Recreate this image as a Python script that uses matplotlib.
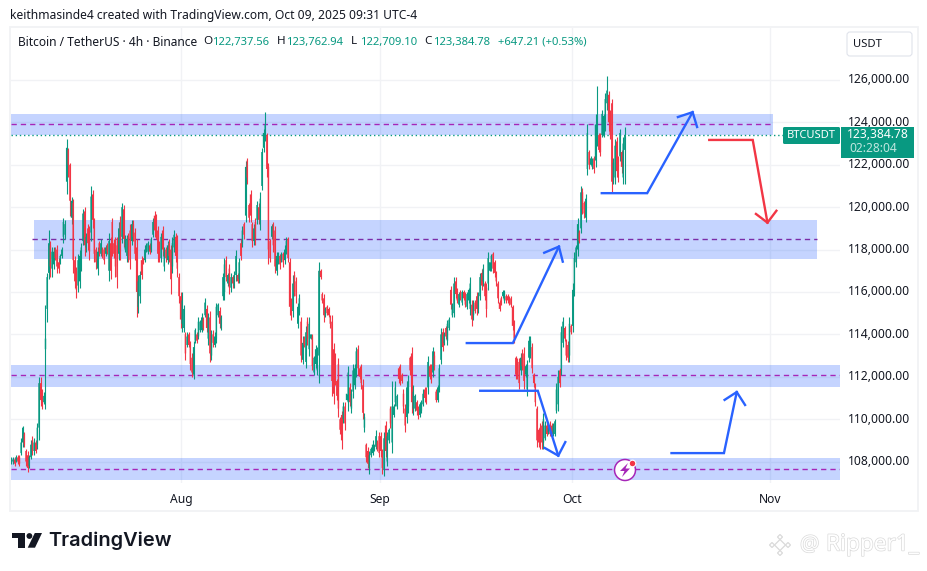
#!/usr/bin/env python3
import matplotlib
matplotlib.use("Agg")
import matplotlib.pyplot as plt
from matplotlib.patches import Rectangle, FancyBboxPatch, Polygon, Circle
from matplotlib.transforms import ScaledTranslation
import matplotlib.patheffects as pe
import numpy as np

plt.rcParams['font.family'] = ['Noto Sans', 'DejaVu Sans']

GREEN = '#089981'
RED = '#F23645'
BLUE = '#2962FF'
PURPLE = '#A626B8'
GRID = '#F1F2F5'
INK = '#131722'

# prices are in thousands of USDT, one row is ten candles
highs = [
    108.2,108.2,108.2,108.3,108.3,108.3,109.1,109.7,109.4,108.6,
    108.5,108.3,109,109.2,109.1,109,109.8,112,112,111.4,
    111.3,115.4,116.9,118.9,118.4,118.1,118.1,118.1,118.2,117.6,
    117.8,118.1,119.5,119.4,123.2,122.8,122.1,120.5,120.4,117.7,
    117.2,117.8,118,118.3,119.9,120,118.8,119.2,119.1,121,
    120.8,119.5,118.1,118.1,118.4,118.5,118.1,118.1,118.2,118.3,
    118.8,118.6,119.5,118.5,118.6,118.6,119.3,119.6,120.2,120.1,
    118.7,118.7,118.8,119.2,119.4,119.4,119,118.5,116.8,117,
    117.7,117.6,118.2,118.3,118.4,118.3,118.6,119.5,119.8,119.7,
    119.1,118.4,118.8,119.1,118.1,118.1,118.4,118.5,118.2,118.6,
    118.9,118.8,118.7,116.9,116,116,115.4,114.1,114.1,114.1,
    113.7,113.1,113.7,114.3,114.1,114.8,114.7,115,114.8,115.7,
    115.4,115,115.1,114.2,114.2,114.1,115.5,115.5,115.3,114.9,
    116.9,117.6,117.7,116.9,117.3,116.9,116.8,117,118,116.9,
    117.6,118.5,119.1,119.3,122.2,122.3,120.2,120.8,119.3,119.2,
    119.5,120.3,120.2,120.7,122.8,123.7,124.5,123.5,122.1,118.5,
    119.2,119.3,119.1,117.9,117.9,117.8,117.9,117.9,118.2,118.6,
    118.6,117.6,115.7,116.8,117,116.7,115.5,115.9,114.8,113.9,
    113.9,114.4,114.8,114.8,114,114,113,113.5,113.4,117.4,
    117.1,116,115.9,115.3,115.4,115.3,114.9,114.9,113.6,113.1,
    111.9,112.9,110.1,110.4,110.8,110.8,111.2,112.5,111.7,111.4,
    112.6,112.6,113.4,113.5,112.5,112.6,111.9,110.3,108.9,108.7,
    108.5,108.7,109,108.8,109.5,109,109.4,109.4,108.6,109.4,
    109.9,109.4,109.6,110.6,111.8,110.7,111.8,111.2,112.5,112.6,
    112.2,111.4,110.7,111.8,112.1,113,113.4,111.6,111.2,110.9,
    110.6,110.8,110.9,111.4,111.5,111.5,113,112.6,112.6,113.4,
    113.2,111.4,111.6,112.6,114.3,114.3,114.1,114.4,114.7,114.8,
    116.3,115.5,116.7,116.7,116.2,116,116.1,116.1,116.1,116,
    116,116.2,116.7,115.6,115.6,115.6,116,116,116.9,117.1,
    117.3,116.5,116.4,117.9,117.4,117.8,117.9,117.5,117,116.5,
    115.6,115.8,116.1,116.1,115.9,115.9,115.8,115.8,115.4,114.7,
    113,112.9,112.9,113.1,113.3,113.4,112.6,112.8,113.9,113.9,
    113.6,112.2,111.7,110.6,109.6,109.8,109.9,110.3,109.9,109.8,
    109.7,109.9,109.8,109.8,110,111.7,112.3,112.4,114.4,114.8,
    114.4,113.8,113.7,114.8,114.5,116.4,117.9,118.2,119.5,118.9,
    121,120.9,120.3,120.6,123.9,122.7,122.4,122.3,122.4,124.4,
    125.7,123.5,123.5,124.6,124.4,125.4,126.2,125.5,124.6,125.1,
    122.3,123.2,123.3,122.4,123.7,122.7,123.3,123.8,
]
lows = [
    107.9,107.9,107.8,108,107.9,107.8,108.3,108.7,108.7,107.8,
    107.5,107.7,108.1,108.3,108.3,108.4,108.6,109,110.6,110.5,
    110.7,110.5,114.6,116.6,116.7,116.7,117.1,117.5,116.9,116.9,
    117.3,117.6,118.3,118.5,120.6,121.4,119.6,119.2,116.9,116.2,
    115.7,116,116.2,117,118.2,117.7,117.9,118,117.5,118.4,
    119,117.4,117.1,116.8,117.7,117.7,117.6,117.3,117.7,117.8,
    116.5,116.6,117.7,117.6,116.7,116.2,117.5,117.5,118.3,118.1,
    117.9,117.4,117.4,117.1,118.2,118.4,117.5,114.8,115,115.5,
    116.6,117.3,117.4,117.9,117.8,117.8,117.9,118.6,118.6,118.5,
    117.4,117.4,117.4,117.7,117,117.4,117.3,117.4,115.9,116.9,
    117.9,117.4,116.7,115.5,114.3,114.1,114.1,112.8,113.4,113.4,
    112.3,112,111.9,113.6,113.6,113.8,114.1,114.1,114.2,114.8,
    114.1,113.5,112.7,112.8,113.4,113.4,113.6,114.8,114.3,114.2,
    115.6,115.6,116.5,116.3,115.9,116,116.2,116.2,116.5,116.4,
    116.4,117.5,118.1,118.5,119.3,121.1,119.3,119.3,118.1,118.2,
    118.2,119.2,119.2,118.9,120.8,122.6,123.1,121.4,117.3,117.4,
    118.5,117.9,116.9,116.8,117.3,117.1,117.4,117.2,117.3,117.8,
    117.4,114.9,114.7,114.8,115.8,115.5,114.3,114.9,112.7,112.6,
    113.4,112.4,113.5,113,113.8,112.3,112.1,112.4,112.1,111.7,
    116.6,115.5,114.6,114.8,114.9,114.8,114.3,111.1,110.7,111.6,
    110.9,110.1,109.3,108.6,109.8,109.5,110.9,110.4,110.6,110.3,
    111,111.4,112,112.1,111.9,111.4,110,109.4,108,107.7,
    107.4,108.2,108.3,108.5,108.6,108.5,108.2,108.2,107.4,107.3,
    108.2,107.8,108.9,109.6,108.4,110.1,110.6,110.5,111.7,111.6,
    111.7,110.3,109.4,109.8,110.3,112.1,110.3,110.2,110.4,110.2,
    110,110.1,110.3,110.6,110.8,110.7,111.2,111.9,111.7,112,
    112.3,110.8,110.8,111.3,112.6,113.2,113.5,113.8,113.5,114.2,
    115.2,114.8,114.8,115.7,115.5,115.3,115.6,115.4,115.6,115.3,
    115.2,115.5,114.9,114.4,114.7,115,114.9,115,115.6,116.1,
    116.3,115.6,114.8,116.1,117,117,116.9,116.7,116.3,115.5,
    115.1,115.4,115.7,115.5,115.5,115.5,115.4,115.3,114.2,113.6,
    111.9,111.9,111.4,112.1,112.3,111.4,112,111.1,112.7,112.9,
    112.2,111.5,110.6,108.7,108.7,108.6,108.6,108.6,109,109.2,
    109.3,109.2,109.3,109.2,109.2,110.3,110.4,111.5,112.1,113.4,
    113.7,112.8,112.7,112.7,114,114.1,115.8,117.2,117.7,118.3,
    118.8,119.7,119.5,119.3,121.5,121.8,122,121.8,121.6,121.9,
    122.9,122.6,122.4,123.3,123.3,123.6,124.6,123.6,123.2,120.7,
    121.1,121.1,121.4,121.2,122.2,121.6,121.1,121.1,
]
opens = [
    108,108,108.1,108,108.2,108.2,108.4,108.9,109.3,108.5,
    108.3,107.8,108.2,109,108.5,108.9,108.8,109.6,111.7,111.2,
    110.8,113.3,115.2,116.9,118.2,117.1,117.3,118,118,117.4,
    117.4,117.7,118.6,118.7,121.2,122.7,122,119.5,120.2,117.5,
    117,116.3,116.5,117.2,118.4,119.8,118.1,119,118.9,118.8,
    120.6,119.3,118,117.1,118.3,117.8,118,118,117.8,118.2,
    117,118.3,119.3,118.3,118.4,118.2,117.8,119.3,118.6,119.9,
    118,117.7,118.6,118.9,118.4,119.2,118.8,118.1,115.3,115.8,
    117.5,117.6,117.5,118,117.9,118.2,118,118.7,119.6,119.5,
    118.9,118.3,117.6,118.9,117.2,118,117.5,118.3,118,117.2,
    118.1,118.6,118.4,116.7,115.8,114.5,114.3,114,113.5,114,
    113.5,112.9,112.1,113.7,114,113.9,114.2,114.2,114.7,114.9,
    115.2,113.8,114.8,113,114,113.5,113.8,114.9,115.1,114.3,
    115.8,116,117.5,116.4,117.1,116.2,116.7,116.3,116.8,116.8,
    116.6,118.3,118.3,119.2,119.6,122.2,120.1,120.6,119.2,118.4,
    119.3,119.4,120,119.2,121,122.8,123.4,123.4,121.9,118.4,
    118.6,119.2,118.9,117,117.4,117.7,117.5,117.8,117.5,117.9,
    118.5,117.4,115.6,115.1,116.8,116.5,114.5,115,114.6,112.8,
    113.8,112.7,114.6,113.3,113.8,113.9,112.2,112.6,112.3,113,
    117,115.9,115.7,114.9,115.3,115.2,114.8,114.6,113.3,112.9,
    111.8,112.6,110,110.2,110,110.6,110.9,110.8,111.5,110.5,
    111.3,111.6,112.2,113.3,112.4,112.4,111.6,109.6,108.8,108.5,
    107.7,108.3,108.4,108.5,108.7,108.9,109.2,109.2,108.4,107.6,
    109.7,108,109,110.5,108.9,110.2,110.8,110.6,112.4,112.4,
    112.1,111.2,110.5,110.1,110.6,112.9,113.1,110.5,110.5,110.8,
    110.5,110.2,110.4,110.7,111.4,111.3,111.5,112.5,112.4,112.2,
    113,111.3,110.9,111.5,112.8,114.1,113.6,114.3,113.7,114.3,
    116.1,114.9,115,116.5,116.1,115.4,116,115.5,116,115.9,
    115.3,115.6,115.2,115.4,114.9,115.5,115.8,115.2,115.8,116.9,
    116.5,116.4,116.2,116.4,117,117.1,117.8,117.4,116.9,116.4,
    115.5,115.7,115.8,115.6,115.8,115.8,115.7,115.7,115.3,114.6,
    112.9,112.7,112.7,112.3,113.1,113.1,112.1,111.4,112.9,113,
    113.4,112.1,111.6,110.5,109.5,109.6,109.7,108.9,109.1,109.7,
    109.4,109.7,109.7,109.3,109.3,110.4,110.7,112.3,112.4,113.6,
    114.3,113.7,113.5,113,114.4,114.4,116.1,117.4,118,118.8,
    119,120.7,120.2,119.5,121.8,122.6,122,121.9,122.3,122.2,
    123.3,123.4,123.4,123.4,123.4,123.9,124.9,125.3,124.5,124.9,
    121.3,121.4,123.1,122.3,122.4,122.6,121.4,122.7,
]
closes = [
    108.1,108.1,107.9,108.2,108,107.9,108.9,109.6,108.8,108,
    107.7,108.2,108.8,108.5,108.9,108.5,109.6,111.7,110.9,110.7,
    111.1,113.8,116.7,118.3,117.2,117.9,117.9,117.6,117.2,117.1,
    117.7,118,119.3,119.2,122.8,122,120.3,120.3,117.5,116.5,
    116.1,117.5,117.7,118.1,119.7,118.2,118.6,118.3,117.9,120.5,
    119.4,117.8,117.4,117.9,117.9,118.3,117.7,117.5,118.1,117.9,
    118.4,117,118,117.8,117.2,116.7,119,117.9,120,118.5,
    118.5,118.5,117.7,117.5,119.2,118.6,117.8,116,116.5,116.8,
    116.8,117.4,118,118.2,118.3,117.9,118.5,119.3,118.9,118.8,
    117.8,117.6,118.6,118,117.9,117.6,118.2,117.7,116.6,118.3,
    118.7,117.7,117.1,115.8,114.7,115.6,115.2,113.1,113.9,113.5,
    112.6,112.2,113.4,114.2,113.7,114.6,114.6,114.8,114.3,115.5,
    114.3,114.8,113.1,114,113.6,113.9,115.3,115.4,114.5,114.8,
    116.7,117.3,116.7,116.8,116.2,116.7,116.4,116.8,117.7,116.5,
    117.4,117.7,118.9,118.7,121.9,121.4,119.5,119.6,118.4,119,
    118.5,120.1,119.4,120.4,122.6,123.5,123.9,121.8,118,117.6,
    119.1,118.2,117.2,117.7,117.8,117.3,117.8,117.4,118,118.4,
    117.6,115.3,114.9,116.4,116,115.8,115.3,115.7,113,113.6,
    113.5,114.1,113.8,114.5,114,112.5,112.9,113.3,113.2,117,
    116.7,115.6,114.9,115.2,115,114.9,114.5,111.8,111.2,111.9,
    111.1,110.5,109.5,109,110.6,109.8,111.2,112.2,110.8,111.2,
    112.3,112.4,113.2,112.4,112,111.7,110.3,110.1,108.2,107.9,
    108.3,108.6,108.8,108.8,109.2,108.6,108.4,108.5,107.7,109.1,
    108.5,109.2,109.5,109.8,110.6,110.6,111.5,111.1,111.9,111.8,
    111.8,110.6,109.7,111.5,111.8,112.3,110.8,111.3,111.1,110.4,
    110.2,110.7,110.8,111.2,111,110.9,112.7,112,111.9,113.2,
    112.5,110.9,111.5,112.4,114,113.4,114,113.9,114.5,114.7,
    115.4,115.4,116.4,115.9,115.6,115.9,115.7,116,115.7,115.4,
    115.9,116.1,116.4,114.7,115.4,115.1,115.2,115.8,116.7,116.3,
    117.1,115.8,115.2,117.6,117.4,117.7,117.1,116.9,116.5,115.7,
    115.2,115.5,116,116,115.6,115.6,115.5,115.4,114.4,113.8,
    112.1,112.1,111.7,112.9,112.5,111.8,112.5,112.5,113.7,113.7,
    112.4,111.7,110.8,109,108.9,108.9,108.9,110,109.7,109.3,
    109.6,109.3,109.4,109.7,109.9,111.4,112,111.7,114.1,114.6,
    113.8,113,112.9,114.5,114.1,116.1,117.6,118.1,119.2,118.4,
    120.7,119.9,119.7,120.4,123.5,122,122.3,122.2,121.8,123.9,
    124.3,122.7,122.6,124.4,124.3,125.1,125.5,124,123.4,121.2,
    122.1,122.9,121.7,121.4,123.5,121.9,123,123.38,
]

price_ticks = [108, 110, 112, 114, 116, 118, 120, 122, 124, 126]
month_days = [0, 31, 61, 92]        # days after 1 Aug
month_labels = ['Aug', 'Sep', 'Oct', 'Nov']
first_day, last_day = -26.6, 69.3

# zones: low, high, level, start day, end day
zone_lows = [123.41, 117.56, 111.52, 107.13]
zone_highs = [124.4, 119.4, 112.56, 108.17]
zone_levels = [123.91, 118.48, 112.07, 107.67]
zone_starts = [-26.65, -23.0, -26.65, -26.65]
zone_ends = [92.4, 99.3, 102.94, 102.94]

# hand drawn arrows as (day, price)
arrow_up_top = [(65.7, 120.66), (72.8, 120.66), (79.9, 124.48)]
arrow_down_red = [(82.5, 123.17), (89.3, 123.17), (91.6, 119.27)]
arrow_up_mid = [(44.6, 113.59), (51.8, 113.59), (59.0, 118.14)]
arrow_down_low = [(46.7, 111.34), (55.7, 111.34), (58.9, 108.28)]
arrow_up_low = [(76.6, 108.4), (84.8, 108.4), (86.8, 111.28)]
head_up_top = [(77.6, 124.25), (79.9, 124.48), (80.6, 123.78)]
head_down_red = [(89.8, 119.68), (91.6, 119.27), (93.0, 119.83)]
head_up_mid = [(56.7, 117.85), (59.0, 118.14), (59.6, 117.43)]
head_down_low = [(56.8, 108.64), (58.9, 108.28), (60.0, 108.92)]
head_up_low = [(84.9, 110.91), (86.8, 111.28), (88.1, 110.67)]

days = np.linspace(first_day, last_day, len(closes))
o, c = np.array(opens), np.array(closes)
colors = [GREEN if b >= a else RED for a, b in zip(opens, closes)]

fig = plt.figure(figsize=(9.28, 5.71), dpi=100, facecolor='white')
W, H = 928, 571
ax = fig.add_axes([11 / W, 1 - 483 / H, 829 / W, 455 / H])
ax.set_xlim(-26.65, 102.94)
ax.set_ylim(106.99, 128.45)
for s in ax.spines.values():
    s.set_visible(False)
ax.yaxis.tick_right()
ax.set_yticks(price_ticks)
ax.set_yticklabels([f"{v * 1000:,.2f}" for v in price_ticks])
ax.set_xticks(month_days)
ax.set_xticklabels(month_labels)
ax.tick_params(axis='both', length=0, labelsize=8.7, labelcolor=INK)
ax.tick_params(axis='y', pad=6)
ax.tick_params(axis='x', pad=7)
ax.grid(True, color=GRID, lw=1)
ax.set_axisbelow(True)

# price labels sit a little above their grid lines
lift = ScaledTranslation(0, 1.5 / 100, fig.dpi_scale_trans)
for lab in ax.get_yticklabels():
    lab.set_transform(lab.get_transform() + lift)

for lo_, hi_, lvl, x0, x1, col in zip(zone_lows, zone_highs, zone_levels, zone_starts, zone_ends,
                                      [PURPLE, '#7B2CA8', PURPLE, PURPLE]):
    ax.add_patch(Rectangle((x0, lo_), x1 - x0, hi_ - lo_, facecolor=BLUE, alpha=0.27, lw=0, zorder=1))
    ax.hlines(lvl, x0 - (0.3 if col != PURPLE else 0), x1, colors=col, lw=1.0,
              linestyles=(0, (3.8, 2.9)), zorder=2.5)

ax.hlines(closes[-1], -26.65, 102.94, colors=GREEN, lw=1, linestyles=(0, (1, 2)), zorder=2)

ax.vlines(days, lows, highs, colors=colors, lw=0.8, zorder=3)
bodies = ax.bar(days, np.abs(c - o), bottom=np.minimum(o, c), width=0.22, color=colors, lw=0, zorder=3)
for b in bodies:
    b.set_snap(False)    # snapped bodies come out two or three pixels wide

for line, col in [(arrow_up_top, BLUE), (head_up_top, BLUE), (arrow_down_red, RED), (head_down_red, RED),
                  (arrow_up_mid, BLUE), (head_up_mid, BLUE), (arrow_down_low, BLUE), (head_down_low, BLUE),
                  (arrow_up_low, BLUE), (head_up_low, BLUE)]:
    xs, ys = zip(*line)
    ax.plot(xs, ys, color=col, lw=1.7, solid_joinstyle='miter', zorder=5)

# everything around the chart goes on a layer in screen pixels
ui = fig.add_axes([0, 0, 1, 1], facecolor='none')
ui.set_xlim(0, W)
ui.set_ylim(H, 0)
ui.axis('off')

ui.add_patch(Rectangle((10, 27), 908, 484, fill=False, edgecolor=GRID, lw=1.3))

ui.text(10, 15, "keithmasinde4 created with TradingView.com, Oct 09, 2025 09:31 UTC-4",
        fontsize=8.7, color=INK, va='center')
ui.text(18, 42, "Bitcoin / TetherUS · 4h · Binance", fontsize=8.6, color=INK, va='center')
for x, key, val in [(203, 'O', '122,737.56'), (277, 'H', '123,762.94'),
                    (351, 'L', '122,709.10'), (424, 'C', '123,384.78')]:
    ui.text(x, 42, key, fontsize=8.4, color=INK, va='center')
    ui.text(x + 9, 42, val, fontsize=8.1, color=GREEN, va='center')
ui.text(498, 42, "+647.21 (+0.53%)", fontsize=8.1, color=GREEN, va='center')

ui.add_patch(FancyBboxPatch((847, 32), 65, 24, boxstyle='round,pad=0,rounding_size=3',
                            facecolor='white', edgecolor='#E0E3EB', lw=0.8))
ui.text(853, 44.5, "USDT", fontsize=8.1, color=INK, va='center')

# last price tags
ui.add_patch(FancyBboxPatch((783, 127), 57, 17, boxstyle='round,pad=0,rounding_size=1.5',
                            facecolor=GREEN, edgecolor='none', zorder=6))
ui.text(811.5, 135.5, "BTCUSDT", fontsize=8, color='white', ha='center', va='center', zorder=7,
        fontweight='bold')
ui.add_patch(Rectangle((841, 127), 73, 31, facecolor=GREEN, edgecolor='none', zorder=6))
ui.text(878, 135, "123,384.78", fontsize=8.7, color='white', ha='center', va='center', zorder=7,
        fontweight='bold')
ui.text(849, 149, "02:28:04", fontsize=8.6, color='#BFE6DF', va='center', zorder=7)

# flash icon on the lowest zone
ui.add_patch(Circle((625, 470), 10.5, facecolor='white', edgecolor=PURPLE, lw=1.1, zorder=6))
ui.add_patch(Polygon([(628, 463), (620, 471), (624.5, 471), (622, 477), (630, 468.5), (625.5, 468.5)],
                     closed=True, facecolor=PURPLE, edgecolor='none', zorder=7))
ui.add_patch(Circle((632.5, 463.5), 3.3, facecolor=RED, edgecolor='white', lw=0.8, zorder=8))

# TradingView logo
logo = '#131722'
ui.add_patch(Polygon([(12, 533), (25.3, 533), (25.3, 547.7), (18.3, 547.7), (18.3, 538), (12, 538)],
                     closed=True, facecolor=logo, edgecolor='none'))
ui.add_patch(Circle((29.4, 536), 2.9, facecolor=logo, edgecolor='none'))
ui.add_patch(Polygon([(34.8, 533), (42, 533), (35, 547.7), (27.7, 547.7)],
                     closed=True, facecolor=logo, edgecolor='none'))
ui.text(48.5, 541, "TradingView", fontsize=14.4, fontweight='semibold', color=logo, va='center',
        family=['Inter', 'DejaVu Sans'])

# faint watermark
wm_edge = '#DADADA'
for cx, cy, s in [(780, 545, 5.5), (772, 545, 2.5), (788, 545, 2.5), (780, 537, 2.5), (780, 553, 2.5)]:
    ui.add_patch(Polygon([(cx - s, cy), (cx, cy - s), (cx + s, cy), (cx, cy + s)], closed=True,
                         facecolor='white', edgecolor=wm_edge, lw=0.9))
for x, s, fs in [(800, "@", 15.5), (826, "Ripper1_", 16.3)]:
    ui.text(x, 545, s, fontsize=fs, color='white', va='center',
            path_effects=[pe.withStroke(linewidth=1.0, foreground=wm_edge)])

fig.savefig('out.png', dpi=100, facecolor='white')
